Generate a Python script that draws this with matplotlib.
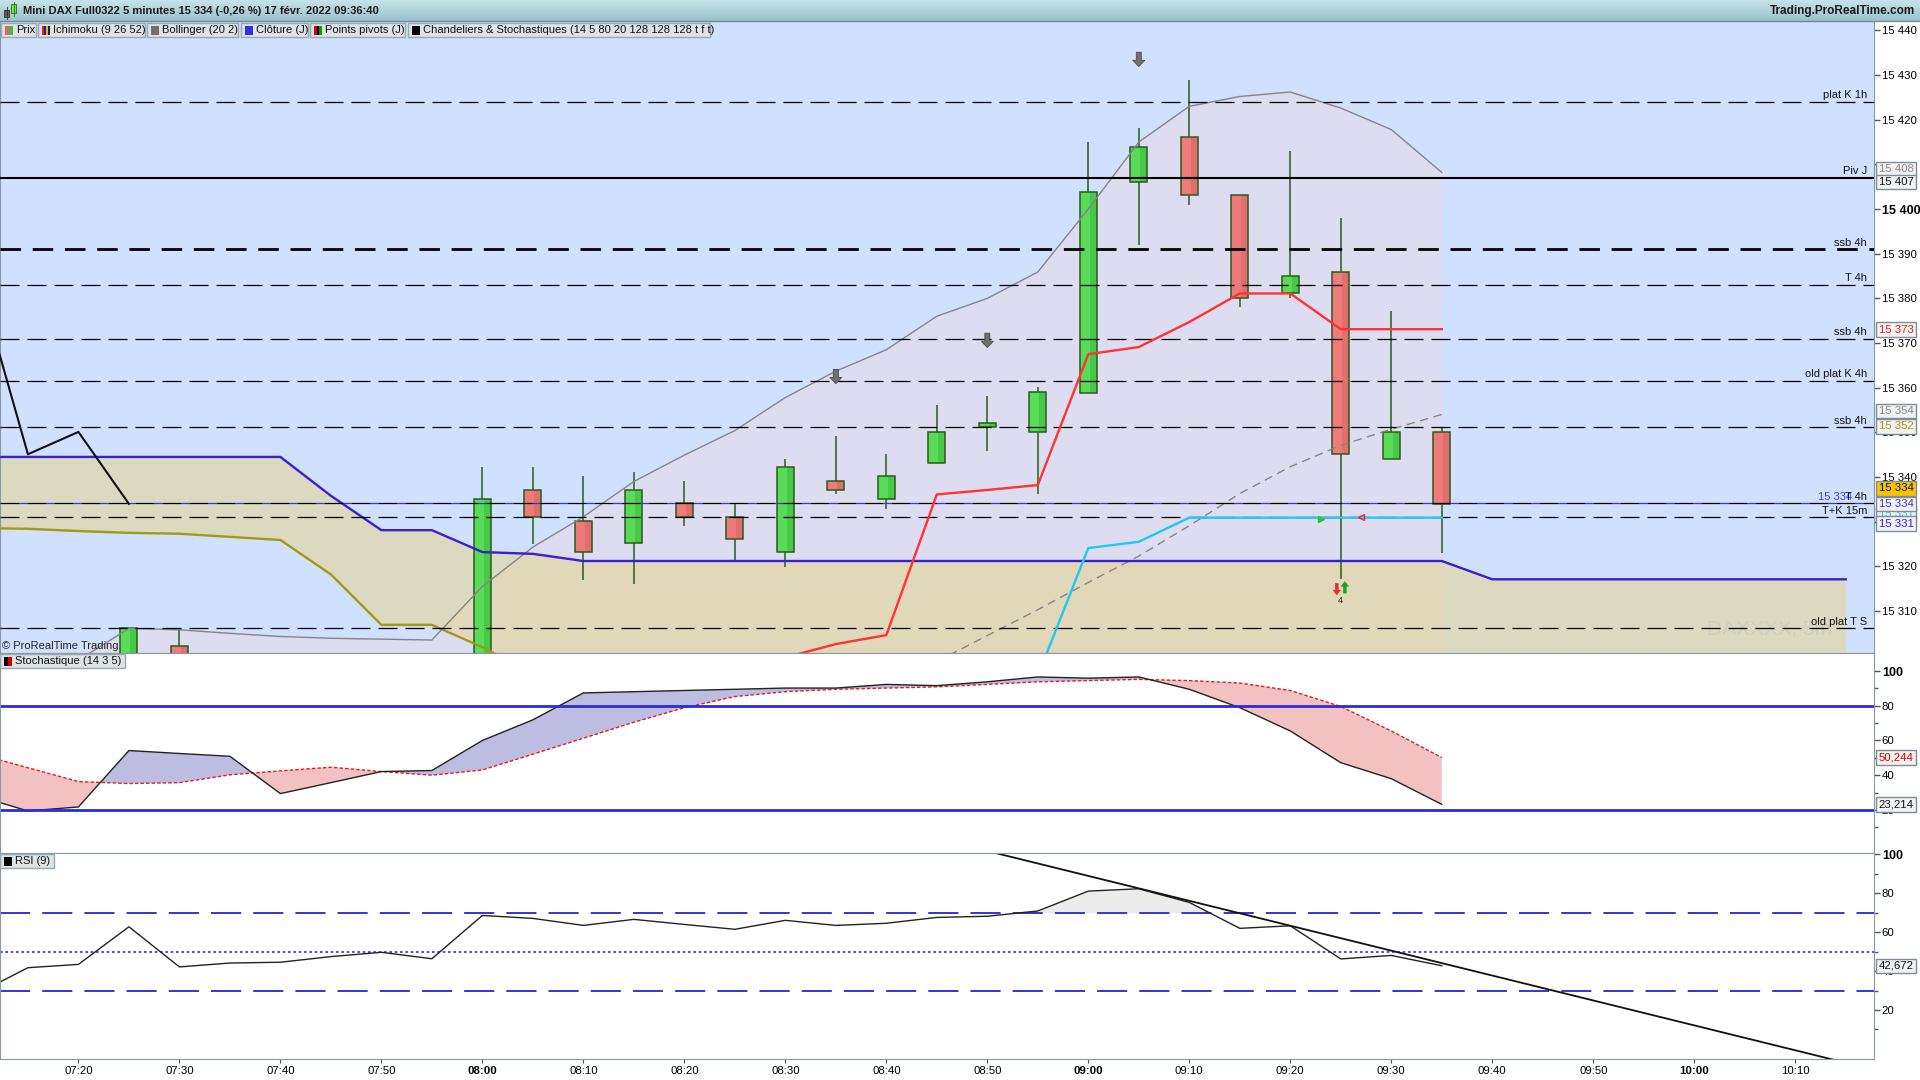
import numpy as np
import matplotlib.pyplot as plt
import matplotlib.transforms as mtransforms
from matplotlib.patches import Rectangle
from matplotlib.colors import LinearSegmentedColormap

plt.rcParams['font.family'] = ['Liberation Sans', 'DejaVu Sans']

# bar index: 0 = 07:20, one bar = 5 minutes
candle_idx = [1, 2, 8, 9, 10, 11, 12, 13, 14, 15, 16, 17, 18, 19, 20, 21, 22, 23, 24, 25, 26, 27]
opens = [15290.0, 15302.1, 15288.0, 15337.0, 15330.1, 15325.2, 15334.1, 15331.0, 15323.2, 15339.0, 15335.0,
         15343.1, 15351.1, 15350.0, 15358.9, 15406.0, 15416.1, 15403.1, 15381.1, 15386.0, 15344.0, 15350.1]
highs = [15306.1, 15306.1, 15342.2, 15342.2, 15340.2, 15341.1, 15339.0, 15334.1, 15344.0, 15349.2, 15345.1,
         15356.1, 15358.1, 15360.1, 15414.9, 15418.1, 15429.0, 15403.1, 15412.9, 15398.0, 15377.1, 15351.1]
lows = [15285.0, 15290.0, 15285.0, 15325.1, 15317.0, 15316.1, 15329.1, 15321.2, 15319.9, 15336.1, 15332.9,
        15343.1, 15345.9, 15336.1, 15358.9, 15392.0, 15401.0, 15378.0, 15380.0, 15317.1, 15344.0, 15323.1]
closes = [15306.1, 15292.0, 15335.0, 15331.0, 15323.2, 15337.0, 15331.0, 15326.1, 15342.2, 15337.0, 15340.2,
          15350.0, 15352.0, 15359.0, 15403.9, 15414.0, 15403.1, 15380.1, 15384.9, 15345.1, 15350.1, 15334.0]

# ichimoku
kumo_idx = list(range(-2, 36))
span_a = [15344.5, 15344.5, 15344.5, 15344.5, 15344.5, 15344.5, 15344.5, 15335.8, 15328.1, 15328.1,
          15323.2, 15322.8, 15321.2, 15321.2, 15321.2, 15321.2, 15321.2, 15321.2, 15321.2, 15321.2,
          15321.2, 15321.2, 15321.2, 15321.2, 15321.2, 15321.2, 15321.2, 15321.2, 15321.2, 15321.2,
          15317.1, 15317.1, 15317.1, 15317.1, 15317.1, 15317.1, 15317.1, 15317.1]
span_b = [15328.6, 15328.4, 15327.9, 15327.5, 15327.3, 15326.6, 15325.9, 15318.2, 15306.9, 15306.9,
          15301.9, 15296.0, 15293.5, 15293.5, 15293.5, 15293.5, 15293.5, 15293.5, 15293.5, 15293.5,
          15293.5, 15293.5, 15293.5, 15293.5, 15293.5, 15293.5, 15293.5, 15293.5, 15293.5, 15293.5,
          15293.5, 15293.5, 15293.5, 15293.5, 15293.5, 15293.5, 15293.5, 15293.5]
tenkan_idx = list(range(13, 28))
tenkan = [15296.5, 15299.6, 15302.6, 15304.6, 15336.1, 15337.1, 15338.2, 15367.5, 15369.1, 15374.7,
          15381.1, 15381.1, 15373.1, 15373.1, 15373.1]
kijun_idx = list(range(19, 28))
kijun = [15295.5, 15324.1, 15325.5, 15330.9, 15330.9, 15330.9, 15330.9, 15330.9, 15330.9]

# bollinger
bb_idx = list(range(0, 28))
bb_up = [15299.0, 15306.1, 15305.8, 15305.0, 15304.3, 15303.9, 15303.7, 15303.5, 15315.5, 15324.3,
         15331.1, 15339.0, 15344.9, 15350.4, 15357.8, 15363.7, 15368.5, 15376.0, 15380.0, 15385.9,
         15400.0, 15415.0, 15423.0, 15425.2, 15426.2, 15422.6, 15417.8, 15408.2]
mid_idx = list(range(17, 28))
bb_mid = [15298.7, 15304.5, 15310.3, 15316.4, 15322.3, 15329.1, 15336.3, 15342.3, 15347.1, 15350.7, 15354.0]

# horizontal levels
level_vals = [15424.0, 15407.0, 15391.0, 15383.0, 15371.0, 15361.6, 15351.1, 15334.1, 15331.0, 15306.1]
level_names = ['plat K 1h', 'Piv J', 'ssb 4h', 'T 4h', 'ssb 4h', 'old plat K 4h', 'ssb 4h', 'T 4h',
               'T+K 15m', 'old plat T S']
level_kind = ['dash', 'solid', 'thick', 'dash', 'dash', 'dash', 'dash', 'dash', 'dash', 'dash']

# oscillators
osc_idx = list(range(-2, 28))
stoch_k = [28.1, 19.4, 21.7, 54.2, 52.5, 50.9, 29.4, 35.7, 42.1, 42.7, 60.0, 71.9, 87.4, 88.1, 88.8,
           89.5, 90.2, 90.2, 92.3, 91.6, 93.8, 96.6, 95.9, 96.6, 89.5, 78.9, 65.5, 47.2, 38.0, 23.2]
stoch_d = [52.3, 44.3, 36.3, 35.2, 35.7, 40.2, 42.5, 44.6, 42.1, 40.0, 43.0, 52.1, 61.3, 70.5, 78.9,
           85.3, 88.1, 89.5, 90.2, 90.9, 92.3, 93.8, 94.5, 95.2, 94.5, 93.1, 88.8, 79.6, 65.5, 50.2]
rsi = [28.4, 41.7, 43.4, 62.7, 42.1, 44.1, 44.5, 47.4, 49.6, 46.3, 68.5, 67.0, 63.4, 66.5, 63.9,
       61.4, 66.0, 63.4, 64.5, 67.5, 68.1, 70.8, 81.0, 82.2, 75.2, 61.9, 63.2, 46.2, 48.0, 42.7]
rsi_trend_x = [18.2, 34.74]
rsi_trend_y = [100.3, -5.4]

tick_idx = list(range(0, 35, 2))
tick_lbl = ['07:20', '07:30', '07:40', '07:50', '08:00', '08:10', '08:20', '08:30', '08:40', '08:50',
            '09:00', '09:10', '09:20', '09:30', '09:40', '09:50', '10:00', '10:10']
bold_ticks = ['08:00', '09:00', '10:00', '15 400', '100']
hidden_ticks = ['15 410', '15 330']   # covered by the value boxes on the scale

XLIM = (-1.553, 35.55)
SPINE = '#8a98a2'

fig = plt.figure(figsize=(19.2, 10.8), dpi=100)
fig.patch.set_facecolor('white')


def box(x0, y0, x1, y1):
    return [x0 / 1920, 1 - y1 / 1080, (x1 - x0) / 1920, (y1 - y0) / 1080]


ax = fig.add_axes(box(0, 21, 1873.5, 653))
ax_s = fig.add_axes(box(0, 653, 1873.5, 853.3))
ax_r = fig.add_axes(box(0, 853.3, 1873.5, 1059.3))

# ---------- main price panel ----------
ax.set_facecolor('#d0e0ff')
ax.set_xlim(*XLIM)
ax.set_ylim(15300.6, 15442.1)
y_lo = ax.get_ylim()[0] - 20

ax.fill_between(bb_idx, bb_up, y_lo, color='#dedcf0', lw=0, zorder=1)
ax.fill_between(kumo_idx, span_a, span_b, color=(0.894, 0.839, 0.588), alpha=0.6, lw=0, zorder=2)

for i, o, h, l, c in zip(candle_idx, opens, highs, lows, closes):
    up = c >= o
    ax.vlines(i, l, h, color='#2b5b1b', lw=1.1, zorder=4)
    body = max(abs(c - o), 0.4)
    ax.add_patch(Rectangle((i - 0.17, min(o, c)), 0.34, body, facecolor='#58dc58' if up else '#ef7a7a',
                           edgecolor='none', zorder=5))
    ax.add_patch(Rectangle((i + 0.03, min(o, c)), 0.14, body, facecolor='#3cb63c' if up else '#d86464',
                           edgecolor='none', alpha=0.55, zorder=5))
    ax.add_patch(Rectangle((i - 0.17, min(o, c)), 0.34, body, facecolor='none',
                           edgecolor='#2b5b1b', lw=1.1, zorder=5))

ax.plot(bb_idx, bb_up, color='#858585', lw=1.0, zorder=6)
ax.plot(mid_idx, bb_mid, color='#858585', lw=1.0, dashes=(6, 4), zorder=6)
ax.plot(kumo_idx, span_a, color='#3a1fd0', lw=1.7, zorder=6)
ax.plot(kumo_idx, span_b, color='#a39a12', lw=1.7, zorder=6)
ax.plot(tenkan_idx, tenkan, color='#ff3333', lw=1.7, zorder=7)
ax.plot(kijun_idx, kijun, color='#1ec8f5', lw=1.7, zorder=7)

# lagging line = closes moved 26 bars back
chik_x = [i - 26 for i in candle_idx if i - 26 >= -3]
chik_y = [c for i, c in zip(candle_idx, closes) if i - 26 >= -3]
ax.plot(chik_x, chik_y, color='#111111', lw=1.5, zorder=7)

# daily close level (blue dashes between the black ones)
ax.axhline(15334.1, color='#3535e0', lw=0.9, linestyle=(6.4, (6.4, 15.2)), zorder=6.4)

lab_tr = mtransforms.offset_copy(mtransforms.blended_transform_factory(ax.transAxes, ax.transData),
                                 fig=fig, x=0, y=1.2, units='points')
for y, name, kind in zip(level_vals, level_names, level_kind):
    if kind == 'solid':
        ax.axhline(y, color='black', lw=1.5, zorder=6.5)
    elif kind == 'thick':
        ax.axhline(y, color='black', lw=2.0, dashes=(7.4, 4.2), zorder=6.5)
    else:
        ax.axhline(y, color='black', lw=0.9, dashes=(15.2, 6.4), zorder=6.5)
    ax.text(0.9966, y, name, transform=lab_tr, ha='right', va='bottom', fontsize=8, color='#111', zorder=9)
ax.text(0.9885, 15334.1, '15 334', transform=lab_tr, ha='right', va='bottom', fontsize=8,
        color='#4040e0', zorder=8.5)

# signal arrows
for i, p in [(15, 15362.5), (18, 15370.6), (21, 15433.5)]:
    ax.annotate('', xy=(i, p - 1.6), xytext=(i, p + 1.6), zorder=8,
                arrowprops=dict(arrowstyle='simple,head_width=0.86,head_length=0.45,tail_width=0.36',
                                mutation_scale=10, shrinkA=0, shrinkB=0,
                                fc='#707070', ec='#4a4a4a', lw=0.6))
ax.annotate('', xy=(24.92, 15313.6), xytext=(24.92, 15316.2), zorder=8,
            arrowprops=dict(arrowstyle='simple,head_width=0.55,head_length=0.35,tail_width=0.22',
                            mutation_scale=10, shrinkA=0, shrinkB=0, fc='#e03030', ec='#e03030', lw=0.3))
ax.annotate('', xy=(25.08, 15316.6), xytext=(25.08, 15314.0), zorder=8,
            arrowprops=dict(arrowstyle='simple,head_width=0.55,head_length=0.35,tail_width=0.22',
                            mutation_scale=10, shrinkA=0, shrinkB=0, fc='#20a020', ec='#20a020', lw=0.3))
ax.text(25.0, 15312.3, '4', ha='center', va='center', fontsize=6.5, color='#222', zorder=8)
ax.plot(24.6, 15330.6, marker='>', ms=4, color='#30c030', zorder=8)
ax.plot(25.4, 15331.1, marker='<', ms=4, mfc='none', mec='#e03030', zorder=8)
ax.text(33.5, 15306.0, 'DAXXXX, 5m', ha='center', va='center', fontsize=15, color='#b8b8b8',
        alpha=0.35, zorder=3)

# ---------- stochastic panel ----------
k = np.array(stoch_k)
d = np.array(stoch_d)
ax_s.set_xlim(*XLIM)
ax_s.set_ylim(-5, 110.4)
ax_s.fill_between(osc_idx, k, d, where=k >= d, interpolate=True, color='#bdbde2', lw=0)
ax_s.fill_between(osc_idx, k, d, where=k < d, interpolate=True, color='#f2c1c1', lw=0)
ax_s.plot(osc_idx, d, color='#e02020', lw=1.0, dashes=(2.5, 1.5))
ax_s.plot(osc_idx, k, color='#222222', lw=1.0)
ax_s.axhline(80, color='#2b2bd8', lw=2.0)
ax_s.axhline(20, color='#2b2bd8', lw=2.0)

# ---------- RSI panel ----------
r = np.array(rsi)
ax_r.set_xlim(*XLIM)
ax_r.set_ylim(-5.3, 100.4)
ax_r.fill_between(osc_idx, r, 70, where=r > 70, interpolate=True, color='#ececec', lw=0)
ax_r.axhline(70, color='#3333dd', lw=1.4, dashes=(15.5, 6.2))
ax_r.axhline(30, color='#3333dd', lw=1.4, dashes=(15.5, 6.2))
ax_r.axhline(50, color='#3333ee', lw=1.2, dashes=(1.6, 1.6))
ax_r.plot(osc_idx, r, color='#222222', lw=1.0)
ax_r.plot(rsi_trend_x, rsi_trend_y, color='#111111', lw=1.3)


def fmt(v):
    s = f'{int(v):,}'.replace(',', ' ')
    return '' if s in hidden_ticks else s


def right_axis(a, majors, minors=None):
    a.yaxis.tick_right()
    a.set_yticks(majors)
    a.set_yticklabels([fmt(v) for v in majors])
    if minors:
        a.set_yticks(minors, minor=True)
    a.tick_params(axis='y', which='both', direction='out', length=4, width=1, color='#555555',
                  labelsize=8.2, pad=2)
    a.tick_params(axis='y', which='minor', length=3)
    for t in a.get_yticklabels():
        if t.get_text() in bold_ticks:
            t.set_fontweight('bold')
            t.set_fontsize(9)
    for s in a.spines.values():
        s.set_color(SPINE)


right_axis(ax, list(range(15310, 15441, 10)))
right_axis(ax_s, [20, 40, 60, 80, 100], [10, 30, 50, 70, 90])
right_axis(ax_r, [20, 40, 60, 80, 100], [10, 30, 50, 70, 90])
for a in (ax, ax_s):
    a.tick_params(axis='x', which='both', bottom=False, labelbottom=False)
ax_r.set_xticks(tick_idx)
ax_r.set_xticklabels(tick_lbl)
ax_r.tick_params(axis='x', direction='out', length=3, color='#555555', labelsize=8.2, pad=2)
for t in ax_r.get_xticklabels():
    if t.get_text() in bold_ticks:
        t.set_fontweight('bold')


def value_box(a, y, txt, color, dy=0.0, fc='#f2f2f2'):
    tr = mtransforms.offset_copy(mtransforms.blended_transform_factory(a.transAxes, a.transData),
                                 fig=fig, x=0, y=-dy * 0.72, units='points')
    a.text(1.0028, y, txt, transform=tr, ha='left', va='center', fontsize=8.2, color=color, clip_on=False,
           zorder=20, bbox=dict(boxstyle='square,pad=0.2', fc=fc, ec='#7d8c96', lw=1))


value_box(ax, 15408, '15 408', '#8a8a8a', -4.5)
value_box(ax, 15407, '15 407', '#111111', 4.4)
value_box(ax, 15373, '15 373', '#e02020')
value_box(ax, 15354, '15 354', '#8a8a8a', -3.5)
value_box(ax, 15352, '15 352', '#a09a10', 3.0)
value_box(ax, 15331, '15 331', '#20c8f0', -3.0)
value_box(ax, 15334, '15 334', '#111111', -15.5, fc='#f8c400')
value_box(ax, 15334, '15 334', '#3b3be0')
value_box(ax, 15331, '15 331', '#3a1fd0', 6.4)
value_box(ax_s, 50.244, '50,244', '#e00000')
value_box(ax_s, 23.214, '23,214', '#111111')
value_box(ax_r, 42.672, '42,672', '#111111')

# ---------- title bar, legend tabs (pixel overlay) ----------
ov = fig.add_axes([0, 0, 1, 1], zorder=10)
ov.patch.set_alpha(0)
ov.axis('off')
ov.imshow(np.linspace(0, 1, 40).reshape(-1, 1), extent=(0, 1920, 21, 0), aspect='auto',
          cmap=LinearSegmentedColormap.from_list('bar', ['#c6e3e9', '#9cc1cb']))
ov.set_xlim(0, 1920)
ov.set_ylim(1080, 0)
ov.plot([0, 1920], [21, 21], color='#6f8d97', lw=1)

ov.add_patch(Rectangle((4, 10), 5, 7, fc='#606060', ec='#303030', lw=0.6))
ov.plot([6.5, 6.5], [7, 19], color='#303030', lw=0.6)
ov.add_patch(Rectangle((11, 4), 5, 9, fc='#6ee83c', ec='#2f6a1a', lw=0.6))
ov.plot([13.5, 13.5], [2, 16], color='#2f6a1a', lw=0.6)
ov.text(23, 11, 'Mini DAX Full0322 5 minutes 15 334 (-0,26 %) 17 févr. 2022 09:36:40', fontsize=8.0,
        fontweight='bold', color='#1a1a1a', va='center', ha='left')
ov.text(1915, 11, 'Trading.ProRealTime.com', fontsize=8.5, fontweight='bold', color='#1a1a1a',
        va='center', ha='right')

tabs = [(1, 36, 'Prix', ['#e86060', '#40c040']),
        (38, 145, 'Ichimoku (9 26 52)', ['#e02020', '#2020c0', '#e0c000', '#202020']),
        (147, 238, 'Bollinger (20 2)', ['#707070']),
        (241, 308, 'Clôture (J)', ['#3030e0']),
        (310, 405, 'Points pivots (J)', ['#e00000', '#000000', '#00a000']),
        (408, 710, 'Chandeliers & Stochastiques (14 5 80 20 128 128 128 t f t)', ['#000000']),
        (0, 125, 'Stochastique (14 3 5)', ['#000000', '#d00000']),
        (0, 54, 'RSI (9)', ['#000000'])]
tab_y = [22.5, 22.5, 22.5, 22.5, 22.5, 22.5, 654, 854]
for (x0, x1, name, cols), y0 in zip(tabs, tab_y):
    ov.add_patch(Rectangle((x0, y0), x1 - x0, 14, fc='#dde3e6', ec='#9aa8b0', lw=1))
    w = 8 / len(cols)
    for j, c in enumerate(cols):
        ov.add_patch(Rectangle((x0 + 4 + j * w, y0 + 3), w, 9, fc=c, ec='none'))
    ov.text(x0 + 15, y0 + 7.5, name, fontsize=8, color='#111', va='center', ha='left')

ov.text(2.5, 646, '© ProRealTime Trading', fontsize=8, color='#222', va='center', ha='left')

fig.savefig('out.png', dpi=100)
